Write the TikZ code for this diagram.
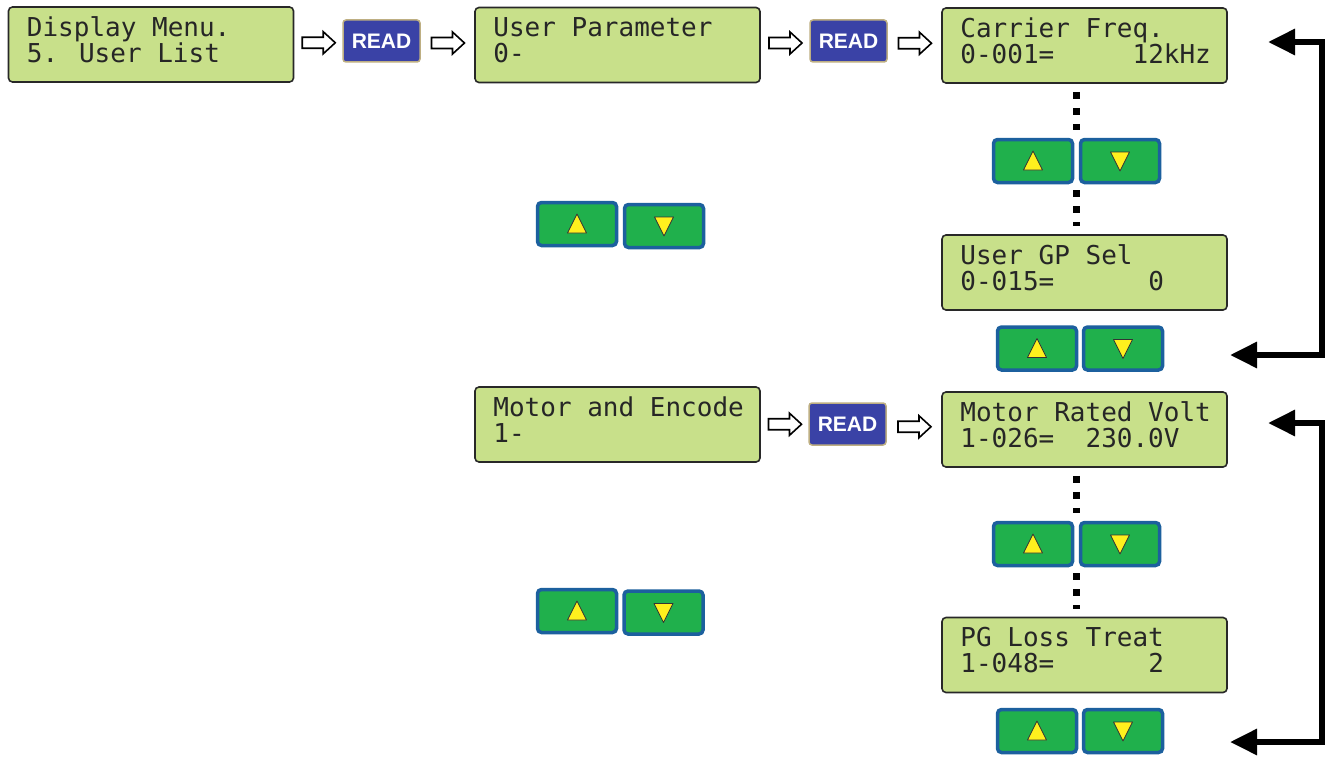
\documentclass[tikz,border=0pt]{standalone}
\usepackage{fontspec}
\newfontfamily\lcdfont{DejaVu Sans Mono}
\newfontfamily\btnfont{Liberation Sans}
\usetikzlibrary{calc,arrows.meta}
\definecolor{lcdfill}{RGB}{200,224,138}
\definecolor{lcdline}{RGB}{40,40,40}
\definecolor{readfill}{RGB}{58,66,166}
\definecolor{readline}{RGB}{190,175,130}
\definecolor{btnfill}{RGB}{32,176,76}
\definecolor{btnline}{RGB}{28,96,158}
\definecolor{trifill}{RGB}{255,240,30}
\tikzset{
 lcd/.style={draw=lcdline, line width=1.6pt, fill=lcdfill, rounded corners=4pt, minimum width=285pt, minimum height=75pt, inner sep=0pt},
 lcdtxt/.style={anchor=base west, inner sep=0pt, font=\lcdfont\fontsize{26pt}{26pt}\selectfont, text=black!85},
 readbtn/.style={draw=readline, line width=1.5pt, fill=readfill, rounded corners=3pt, minimum width=77pt, minimum height=42pt, inner sep=0pt, text=white, font=\btnfont\bfseries\fontsize{21pt}{21pt}\selectfont},
 keybtn/.style={draw=btnline, line width=3.5pt, fill=btnfill, rounded corners=4pt, minimum width=79pt, minimum height=43pt, inner sep=0pt},
 keytri/.style={fill=trifill, draw=black!80, line width=0.8pt, line join=round},
 hollow/.style={draw=black, fill=white, line width=1.6pt, line join=miter},
 dotline/.style={line width=7pt, dash pattern=on 7pt off 9pt},
 backarrow/.style={line width=6pt, {Triangle[length=27pt,width=25pt]}-{Triangle[length=27pt,width=25pt]}},
}
\newcommand\lcdbox[5]{%
 \node[lcd] (#1) at (#2,#3) {};
 \node[lcdtxt] (#1a) at ($(#1.north west)+(19,30)$) {#4};
 \node[lcdtxt] (#1b) at ($(#1.north west)+(19,56)$) {#5};}
\newcommand\keypair[5]{%
 \node[keybtn] (#1u) at (#2,#3) {};
 \node[keybtn] (#1d) at (#4,#5) {};
 \draw[keytri] (#1u.center) +(0,-10) -- +(9.5,9) -- +(-9.5,9) -- cycle;
 \draw[keytri] (#1d.center) +(0,10) -- +(9.5,-9) -- +(-9.5,-9) -- cycle;}
\newcommand\fatarrow[3]{%
 \coordinate (#1) at ($(#2.east)!0.5!(#3.west)$);
 \draw[hollow] (#1) +(-16,-5.5) -- +(5,-5.5) -- +(5,-11) -- +(17,0) -- +(5,11) -- +(5,5.5) -- +(-16,5.5) -- cycle;}
\begin{document}
\begin{tikzpicture}[x=1pt,y=-1pt]
\fill[white] (0,0) rectangle (1335,757);
\useasboundingbox (0,0) rectangle (1335,757);

% LCD panels
\lcdbox{d1}{151}{44.5}{Display Menu.}{5. User List}
\lcdbox{d2}{617.5}{45}{User Parameter}{0-}
\lcdbox{d3}{1084.5}{45.5}{Carrier Freq.}{0-001=\hphantom{00000}12kHz}
\lcdbox{d4}{1084.5}{272.5}{User GP Sel}{0-015=\hphantom{000000}0}
\lcdbox{d5}{617.5}{424.5}{Motor and Encode}{1-}
\lcdbox{d6}{1084.5}{429.5}{Motor Rated Volt}{1-026=\hphantom{00}230.0V}
\lcdbox{d7}{1084.5}{655}{PG Loss Treat}{1-048=\hphantom{000000}2}

% READ buttons
\node[readbtn] (r1) at (381.5,41) {READ};
\node[readbtn] (r2) at (848.5,41) {READ};
\node[readbtn] (r3) at (847.5,424) {READ};

% hollow arrows
\fatarrow{h1}{d1}{r1}
\fatarrow{h2}{r1}{d2}
\fatarrow{h3}{d2}{r2}
\fatarrow{h4}{r2}{d3}
\fatarrow{h5}{d5}{r3}
\fatarrow{h6}{r3}{d6}

% key pairs
\keypair{A}{1033}{161}{1120}{161}
\keypair{B}{1037}{348.5}{1123}{348.5}
\keypair{C}{577}{224}{664}{226}
\keypair{D}{577}{611}{663.5}{612.5}
\keypair{E}{1033}{544}{1120}{544}
\keypair{F}{1037}{731}{1123}{731}

% dotted lines
\coordinate (gA) at ($(Au.east)!0.5!(Ad.west)$);
\coordinate (gE) at ($(Eu.east)!0.5!(Ed.west)$);
\draw[dotline] ($(d3.south -| gA)+(0,8)$) -- ($(Au.north -| gA)+(0,-8)$);
\draw[dotline] ($(Au.south -| gA)+(0,6)$) -- ($(d4.north -| gA)+(0,-8)$);
\draw[dotline] ($(d6.south -| gE)+(0,8)$) -- ($(Eu.north -| gE)+(0,-8)$);
\draw[dotline] ($(Eu.south -| gE)+(0,6)$) -- ($(d7.north -| gE)+(0,-8)$);

% return arrows
\coordinate (L1a) at (1268,42);
\coordinate (L1v) at (1322,355);
\coordinate (L1d) at (1230,355);
\draw[backarrow] (L1a) -| (L1v) -- (L1d);
\coordinate (L2a) at (1268,423);
\coordinate (L2v) at (1322,742);
\coordinate (L2d) at (1230,742);
\draw[backarrow] (L2a) -| (L2v) -- (L2d);
\end{tikzpicture}
\end{document}
